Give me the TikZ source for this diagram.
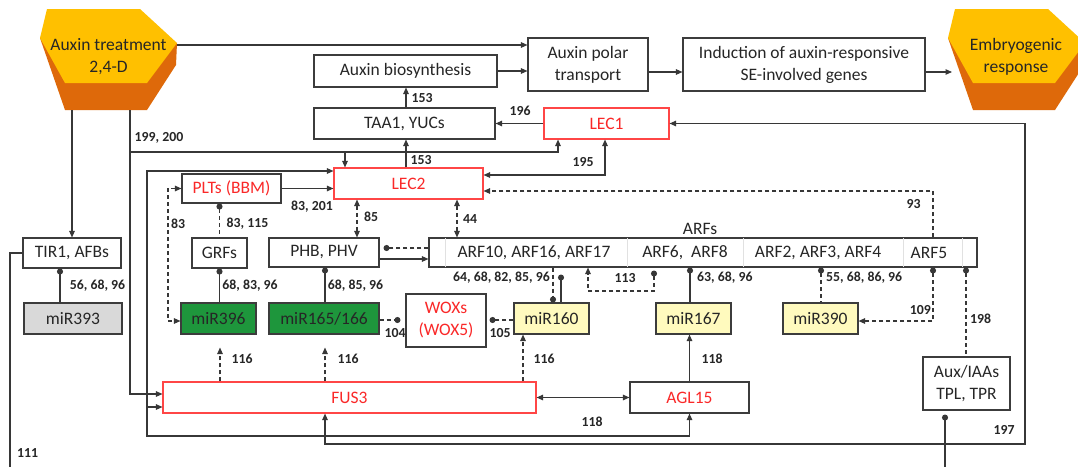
\documentclass[tikz,border=0pt]{standalone}
\usepackage{fontspec}
\setmainfont{Carlito}
\usetikzlibrary{arrows.meta}
\definecolor{lnc}{RGB}{55,55,55}
\definecolor{bxc}{RGB}{60,60,60}
\definecolor{txc}{RGB}{38,38,38}
\definecolor{redc}{RGB}{250,40,40}
\definecolor{redb}{RGB}{255,70,70}
\definecolor{grn}{RGB}{30,150,60}
\definecolor{ylw}{RGB}{255,250,190}
\definecolor{gry}{RGB}{217,217,217}
\definecolor{hexy}{RGB}{255,192,0}
\definecolor{hexo}{RGB}{222,105,10}
\definecolor{divc}{RGB}{225,225,225}
\newcommand\bxfont{\fontsize{17.5}{22}\selectfont}
\newcommand\lbfont{\fontsize{13.8}{16}\selectfont\bfseries}
\newcommand\hexprism[1]{%
  \fill[hexo] (#1,38) -- (#1+25,110) -- (#1+107,110) -- (#1+136,65) -- (#1+137,43) -- cycle;
  \fill[hexy] (#1+7,9) -- (#1+100,9) -- (#1+137,43) -- (#1+107,83) -- (#1+25,83) -- (#1,38) -- cycle;
}
\tikzset{
  >={Triangle[length=6.5pt,width=5.5pt]},
  mydot/.tip={Circle[length=6pt]},
  box/.style={draw=bxc, line width=1.1pt, fill=white, inner sep=0pt, font=\bxfont, text=txc, align=center, minimum height=31pt},
  redbox/.style={box, draw=redb, text=redc},
  redtxt/.style={box, text=redc},
  grnbox/.style={box, fill=grn},
  ylwbox/.style={box, fill=ylw},
  grybox/.style={box, fill=gry},
  ln/.style={draw=lnc, line width=1.1pt},
  dsh/.style={dash pattern=on 4pt off 3pt},
  lbl/.style={font=\lbfont, text=txc, inner sep=0pt},
  htxt/.style={font=\bxfont, text=txc, align=center, inner sep=0pt},
}
\begin{document}
\begin{tikzpicture}[x=1pt,y=-1pt]
\fill[white] (0,0) rectangle (1078,466);
\useasboundingbox (0,0) rectangle (1078,466);
% hexagons
\hexprism{40}
\hexprism{948}
\node[htxt, minimum width=137pt, minimum height=106pt] (hexL) at (108.5,57) {Auxin treatment\\2,4-D};
\node[htxt] (hexR) at (1016,57) {Embryogenic\\response};
\coordinate (hexRin) at (952,72);
% boxes
\node[box, minimum width=183pt, minimum height=32pt] (biosyn) at (405.5,71) {Auxin biosynthesis};
\node[box, minimum width=120pt, minimum height=53pt] (polar) at (588,64.5) {Auxin polar\\transport};
\node[box, minimum width=242pt, minimum height=53pt] (induct) at (804,64.5) {Induction of auxin-responsive\\SE-involved genes};
\node[box, minimum width=181pt] (taa) at (404.5,123.5) {TAA1, YUCs};
\node[redbox, minimum width=125pt] (lec1) at (606.5,123.5) {LEC1};
\node[redbox, minimum width=149pt] (lec2) at (408.5,183.5) {LEC2};
\node[redtxt, minimum width=99pt, minimum height=29pt] (plts) at (231.5,188.5) {PLTs (BBM)};
\node[box, minimum width=98pt, minimum height=30pt] (tir) at (72,253) {TIR1, AFBs};
\node[box, minimum width=55pt, minimum height=30pt] (grfs) at (219.5,253) {GRFs};
\node[box, minimum width=110pt, minimum height=29pt] (phb) at (324,252.5) {PHB, PHV};
\node[box, minimum width=548pt, minimum height=29pt] (arfs) at (703,252.5) {};
\foreach \xd in {445,627,743,903,962}
  \draw[divc, line width=0.8pt, shorten <=1pt, shorten >=1pt] (arfs.north -| \xd,0) -- (arfs.south -| \xd,0);
\node[htxt] (arfA) at (534,253) {ARF10, ARF16, ARF17};
\node[htxt] (arfB) at (685,253) {ARF6,~ ARF8};
\node[htxt] (arfC) at (818,253) {ARF2, ARF3, ARF4};
\node[htxt] (arfD) at (929,253) {ARF5};
\node[htxt] (arflab) at (700,229) {ARFs};
\node[grybox, minimum width=98pt] (mir393) at (73,318.5) {miR393};
\node[grnbox, minimum width=75pt] (mir396) at (218.5,318.5) {miR396};
\node[grnbox, minimum width=110pt] (mir165) at (324,318.5) {miR165/166};
\node[redtxt, minimum width=80pt, minimum height=53pt] (wox) at (446,320.5) {WOXs\\(WOX5)};
\node[ylwbox, minimum width=75pt] (mir160) at (551.5,318.5) {miR160};
\node[ylwbox, minimum width=75pt] (mir167) at (693.5,318.5) {miR167};
\node[ylwbox, minimum width=75pt] (mir390) at (820.5,318.5) {miR390};
\node[box, minimum width=87pt, minimum height=53pt] (aux) at (966.5,383.5) {Aux/IAAs\\TPL, TPR};
\node[redbox, minimum width=373pt] (fus3) at (349.5,397.5) {FUS3};
\node[redtxt, minimum width=119pt] (agl15) at (689.5,397.5) {AGL15};
% top row
\draw[ln, ->] (hexL.east |- 0,45) -- (polar.west |- 0,45);
\draw[ln, ->] (biosyn.east) -- (biosyn.east -| polar.west);
\draw[ln, ->] (polar.east |- 0,72) -- (induct.west |- 0,72);
\draw[ln, ->] (induct.east |- 0,72) -- (hexRin);
\draw[ln, ->] (taa.north -| 406,0) -- (biosyn.south -| 406,0);
\draw[ln, ->] (lec1.west) -- (taa.east);
\draw[ln, ->] (lec2.north -| 406,0) -- (taa.south -| 406,0);
\draw[ln, <->] (lec2.east |- 0,175) -- (605,175) -- (lec1.south -| 605,0);
% big loops
\draw[ln, <->] (lec1.east) -- (1025,123.5) -- (1025,444) -- (325,444) -- (fus3.south -| 325,0);
\draw[ln, <->] (lec2.west |- 0,171) -- (147,171) -- (147,436) -- (agl15.south |- 0,436) -- (agl15.south);
\draw[ln, ->] (147,407) -- (fus3.west |- 0,407);
\draw[ln, ->] (hexL.south -| 130,0) -- (130,394) -- (fus3.west |- 0,394);
\draw[ln, ->] (130,152) -- (558,152) -- (lec1.south -| 558,0);
\draw[ln, ->] (345,152) -- (lec2.north -| 345,0);
\draw[ln, ->] (hexL.south -| tir.north) -- (tir.north);
% left part
\draw[ln, ->] (plts.east) -- (plts.east -| lec2.west);
\draw[ln, dsh, mydot-] (plts.south -| grfs.north) -- (grfs.north);
\draw[ln, dsh, <->] (plts.west) -- (168,188.5) -- (168,321) -- (mir396.west |- 0,321);
\draw[ln, mydot-] (grfs.south) -- (grfs.south |- mir396.north);
\draw[ln, mydot-] (tir.south -| 60,0) -- (mir393.north -| 60,0);
\draw[ln] (tir.west) -- (10,253) -- (10,470);
\draw[ln, mydot-] (phb.south -| 325,0) -- (mir165.north -| 325,0);
\draw[ln, dsh, <->] (lec2.south -| 357,0) -- (phb.north -| 357,0);
\draw[ln, dsh, <->] (lec2.south -| 457,0) -- (arfs.north -| 457,0);
\draw[ln, dsh, -mydot, shorten >=4pt] (arfs.west |- 0,248) -- (phb.east |- 0,248);
\draw[ln, ->] (phb.east |- 0,259) -- (arfs.west |- 0,259);
% FUS3 / AGL15
\draw[ln, <->] (fus3.east) -- (agl15.west);
\draw[ln, dsh, ->, shorten >=13pt] (fus3.north -| 220,0) -- (mir396.south -| 220,0);
\draw[ln, dsh, ->, shorten >=13pt] (fus3.north -| 325,0) -- (mir165.south -| 325,0);
\draw[ln, dsh, ->] (fus3.north -| 523,0) -- (mir160.south -| 523,0);
\draw[ln, ->] (agl15.north) -- (agl15.north |- mir167.south);
% ARFs
\draw[ln, dsh, ->] (arfs.north -| 933,0) -- (933,191) -- (lec2.east |- 0,191);
\draw[ln, -mydot, shorten >=7pt] (mir160.north -| 561,0) -- (arfs.south -| 561,0);
\draw[ln, dsh, -mydot] (arfs.south -| 553,0) -- (mir160.north -| 553,0);
\draw[ln, dsh, mydot->, shorten <=3pt] (arfs.south -| 654,0) -- (654,291) -- (588,291) -- (arfs.south -| 588,0);
\draw[ln, mydot-] (arfs.south -| 690,0) -- (mir167.north -| 690,0);
\draw[ln, dsh, mydot-] (arfs.south -| 821,0) -- (mir390.north -| 821,0);
\draw[ln, dsh, mydot->] (arfs.south -| 933,0) -- (933,321) -- (mir390.east |- 0,321);
\draw[ln, dsh, mydot-] (arfs.south -| 966,0) -- (aux.north -| 966,0);
\draw[ln, mydot-, shorten <=4pt] (aux.south -| 945,0) -- (945,470);
\draw[ln, dsh, -mydot, shorten >=5pt] (mir165.east |- 0,320) -- (wox.west |- 0,320);
\draw[ln, dsh, -mydot, shorten >=3pt] (mir160.west |- 0,320) -- (wox.east |- 0,320);
% labels
\node[lbl] (l153a) at (422,98) {153};
\node[lbl] (l196) at (520,111) {196};
\node[lbl] (l153b) at (421,160) {153};
\node[lbl] (l195) at (583,162) {195};
\node[lbl] (l199) at (159,138) {199, 200};
\node[lbl] (l83b) at (312,207) {83, 201};
\node[lbl] (l83) at (178,224) {83};
\node[lbl] (l83c) at (247.5,224) {83, 115};
\node[lbl] (l85) at (371,217) {85};
\node[lbl] (l44) at (470,219) {44};
\node[lbl] (l93) at (913.5,204) {93};
\node[lbl] (l56) at (97.5,286) {56, 68, 96};
\node[lbl] (l68a) at (250,286) {68, 83, 96};
\node[lbl] (l68b) at (355.5,286) {68, 85, 96};
\node[lbl, anchor=east] (l64) at (550,278) {64, 68, 82, 85, 96};
\node[lbl] (l113) at (625,278) {113};
\node[lbl, anchor=west] (l63) at (697,278) {63, 68, 96};
\node[lbl, anchor=west] (l55) at (826,278) {55, 68, 86, 96};
\node[lbl, anchor=east] (l109) at (931,310) {109};
\node[lbl, anchor=west] (l198) at (970,319) {198};
\node[lbl] (l104) at (395,333) {104};
\node[lbl] (l105) at (500,333) {105};
\node[lbl] (l116a) at (242,359) {116};
\node[lbl] (l116b) at (348,359) {116};
\node[lbl] (l116c) at (544,359) {116};
\node[lbl] (l118a) at (712,359) {118};
\node[lbl] (l118b) at (592,422) {118};
\node[lbl] (l197) at (1004,430) {197};
\node[lbl] (l111) at (27.5,453) {111};
\end{tikzpicture}
\end{document}
